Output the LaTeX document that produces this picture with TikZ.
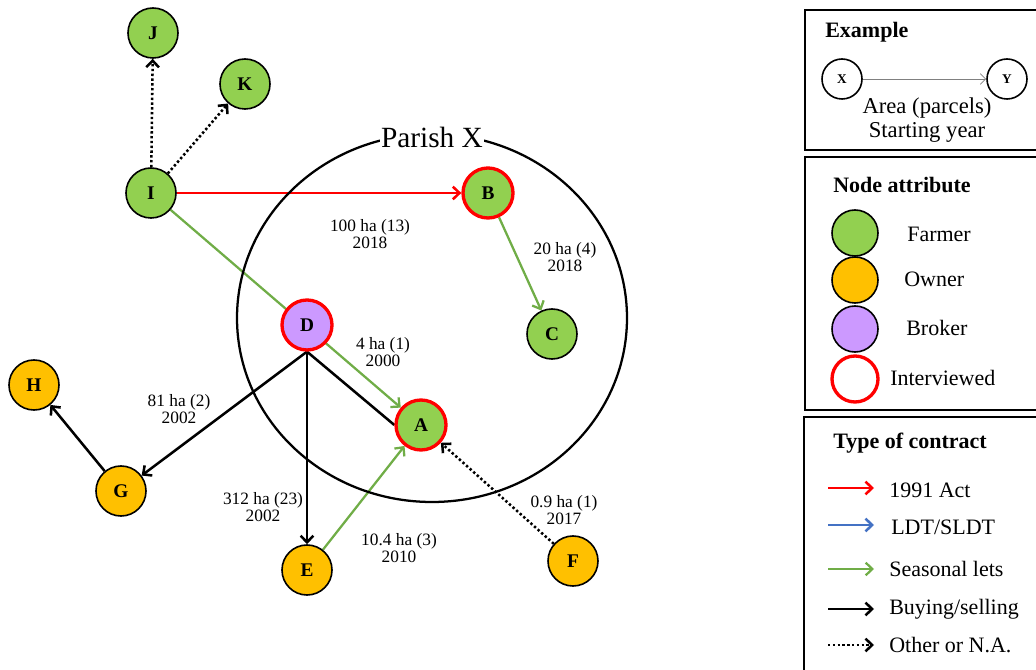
\documentclass[tikz,border=0pt]{standalone}
\usepackage{fontspec}
\setmainfont{Liberation Serif}
\usetikzlibrary{arrows.meta}
\pgfdeclarelayer{bg}
\pgfsetlayers{bg,main}
\definecolor{farmer}{HTML}{92D050}
\definecolor{owner}{HTML}{FFC000}
\definecolor{broker}{HTML}{CC99FF}
\definecolor{redc}{HTML}{FF0000}
\definecolor{seas}{HTML}{70AD47}
\definecolor{ldt}{HTML}{4472C4}
\begin{document}
\begin{tikzpicture}[x=0.75pt,y=-0.75pt,
  actor/.style={circle,draw=black,line width=1.2pt,minimum size=37.5pt,inner sep=0pt,
    font=\fontsize{14.5}{15}\selectfont\bfseries},
  farm/.style={actor,fill=farmer},
  own/.style={actor,fill=owner},
  brok/.style={actor,fill=broker},
  intv/.style={draw=redc,line width=2.5pt},
  tip/.style={-{Straight Barb[length=5pt,width=9.5pt]}},
  redarr/.style={tip,draw=redc,line width=1.9pt},
  grnarr/.style={tip,draw=seas,line width=1.7pt},
  bluearr/.style={tip,draw=ldt,line width=1.9pt},
  blkarr/.style={tip,draw=black,line width=1.9pt},
  blk/.style={draw=black,line width=1.9pt},
  dotarr/.style={tip,draw=black,line width=1.9pt,dash pattern=on 1.8pt off 1.8pt},
  elab/.style={align=center,inner sep=0pt,font=\fontsize{13}{12.8}\selectfont},
  legtxt/.style={anchor=west,inner sep=0pt,font=\fontsize{16.5}{17}\selectfont},
  legtitle/.style={anchor=west,inner sep=0pt,font=\fontsize{16.5}{17}\selectfont\bfseries},
  legbox/.style={draw=black,line width=1.5pt},
  legcirc/.style={circle,draw=black,line width=1.2pt,minimum size=34.5pt,inner sep=0pt}
]
\useasboundingbox (0,0) rectangle (1036,670);
\clip (0,0) rectangle (1036,670);

% Parish
\draw[line width=1.7pt] (432,318) ellipse [x radius=146.25pt, y radius=138pt];
\node[fill=white,inner sep=1pt,font=\fontsize{22}{22}\selectfont] (parish) at (432,137) {Parish X};

% nodes
\node[farm] (J) at (153,33) {J};
\node[farm] (K) at (245,84) {K};
\node[farm] (I) at (151,193) {I};
\node[farm,intv] (B) at (488,193) {B};
\node[farm] (C) at (552,334) {C};
\node[brok,intv] (D) at (307,325) {D};
\node[farm,intv] (A) at (421,425) {A};
\node[own] (H) at (34,385) {H};
\node[own] (G) at (121,491) {G};
\node[own] (E) at (307,570) {E};
\node[own] (F) at (573,561) {F};

\begin{pgfonlayer}{bg}
\draw[dotarr] (I) -- (J);
\draw[dotarr] (I) -- (K);
\draw[redarr] (I) -- (B);
\draw[grnarr] (I) -- (A);
\draw[blk] (D.south) -- (A.west);
\draw[blkarr] (D.south) -- (G);
\draw[blkarr] (D.south) -- (E);
\draw[blkarr] (G) -- (H);
\draw[grnarr] (E) -- (A);
\draw[dotarr] (F) -- (A);
\draw[grnarr] (B) -- (C);
\end{pgfonlayer}

% edge labels
\node[elab] (l1) at (370,234) {100 ha (13)\\2018};
\node[elab] (l2) at (565,257) {20 ha (4)\\2018};
\node[elab] (l3) at (383,352) {4 ha (1)\\2000};
\node[elab] (l4) at (179,409) {81 ha (2)\\2002};
\node[elab] (l5) at (263,507) {312 ha (23)\\2002};
\node[elab] (l6) at (399,548) {10.4 ha (3)\\2010};
\node[elab] (l7) at (564,510) {0.9 ha (1)\\2017};

% legend 1: example
\draw[legbox] (805,10) rectangle (1050,150);
\node[legtitle] (t1) at (825,32) {Example};
\node[circle,draw=black,line width=1.2pt,minimum size=30pt,inner sep=0pt,font=\fontsize{10}{10}\selectfont\bfseries] (X) at (842,79) {X};
\node[circle,draw=black,line width=1.2pt,minimum size=30pt,inner sep=0pt,font=\fontsize{10}{10}\selectfont\bfseries] (Y) at (1007,79) {Y};
\draw[draw=gray,line width=0.6pt,-{Straight Barb[length=4pt,width=8pt]}] (X) -- (Y);
\node[align=center,inner sep=0pt,font=\fontsize{17}{17.5}\selectfont] (ex) at (927,120) {Area (parcels)\\Starting year};

% legend 2: node attribute
\draw[legbox] (805,157) rectangle (1050,410);
\node[legtitle] (t2) at (833,185) {Node attribute};
\node[legcirc,fill=farmer] (lf) at (855,233) {};
\node[legcirc,fill=owner] (lo) at (855,280) {};
\node[legcirc,fill=broker] (lb) at (855,329) {};
\node[legcirc,draw=redc,line width=2.5pt] (li) at (855,379) {};
\node[legtxt] (tf) at (907,234) {Farmer};
\node[legtxt] (to) at (904,279) {Owner};
\node[legtxt] (tb) at (906,328) {Broker};
\node[legtxt] (ti) at (890,378) {Interviewed};

% legend 3: type of contract
\draw[legbox] (804,417) rectangle (1050,690);
\node[legtitle] (t3) at (833,443) {Type of contract};
\coordinate (a1) at (828,488); \coordinate (b1) at (874,488);
\coordinate (a2) at (828,525); \coordinate (b2) at (874,525);
\coordinate (a3) at (828,569); \coordinate (b3) at (874,569);
\coordinate (a4) at (828,609); \coordinate (b4) at (874,609);
\coordinate (a5) at (828,645); \coordinate (b5) at (874,645);
\draw[redarr] (a1) -- (b1);
\draw[bluearr] (a2) -- (b2);
\draw[grnarr] (a3) -- (b3);
\draw[blkarr] (a4) -- (b4);
\draw[dotarr] (a5) -- (b5);
\node[legtxt] (c1) at (889,490) {1991 Act};
\node[legtxt] (c2) at (891,527) {LDT/SLDT};
\node[legtxt] (c3) at (889,569) {Seasonal lets};
\node[legtxt] (c4) at (889,609) {Buying/selling};
\node[legtxt] (c5) at (889,645) {Other or N.A.};
\end{tikzpicture}
\end{document}
